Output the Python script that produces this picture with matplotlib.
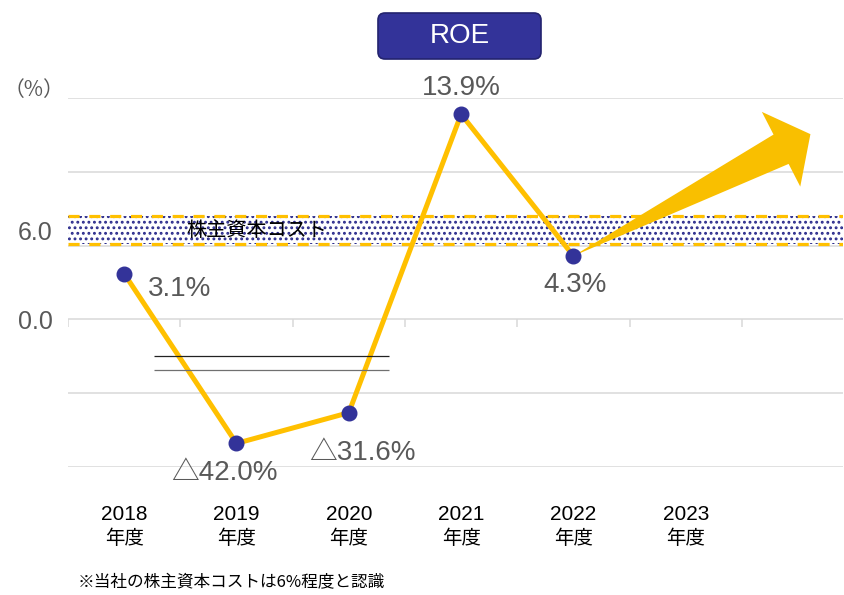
import matplotlib
matplotlib.use("Agg")
import matplotlib.pyplot as plt
import numpy as np
from matplotlib.patches import FancyBboxPatch, Polygon

plt.rcParams['font.family'] = ['Liberation Sans', 'Noto Sans CJK JP', 'DejaVu Sans']
plt.rcParams['lines.scale_dashes'] = False
plt.rcParams['hatch.linewidth'] = 1.3

# data
years = ['2018', '2019', '2020', '2021', '2022', '2023']
year_suffix = '年度'
roe = [3.1, -42.0, -31.6, 13.9, 4.3]
roe_labels = ['3.1%', '△42.0%', '△31.6%', '13.9%', '4.3%']
cost_band = (5.1, 7.0)
cost_label = '株主資本コスト'
ytick_vals = [0, 6]
ytick_labels = ['0.0', '6.0']
grid_vals = [-50, -25, 0, 5, 10, 15]
footnote = '※当社の株主資本コストは6%程度と認識'

NAVY = '#333399'
GOLD = '#FFC000'
GRAY = '#595959'

# broken axis: the negative part below the break is squeezed
V_KNOTS = [-100, -17, -2.5, 100]
D_KNOTS = [-4, -0.68, -0.5, 20]


def fwd(v):
    return np.interp(v, V_KNOTS, D_KNOTS)


def inv(d):
    return np.interp(d, D_KNOTS, V_KNOTS)


fig = plt.figure(figsize=(8.44, 5.95), dpi=100)
ax = fig.add_axes([68 / 844, (595 - 467) / 595, 775 / 844, 369 / 595])
ax.set_yscale('function', functions=(fwd, inv))
ax.set_xlim(-0.5, 6.4)
ax.set_ylim(-50, 15)
for s in ax.spines.values():
    s.set_visible(False)

# grid + ticks
ax.set_yticks(ytick_vals, ytick_labels)
ax.yaxis.set_minor_locator(matplotlib.ticker.NullLocator())
ax.tick_params(axis='y', which='both', length=0, pad=11, labelsize=18, labelcolor=GRAY)
ax.set_xticks([])
for g in grid_vals:
    ax.axhline(g, color='#D9D9D9', lw=1.1, zorder=0.5)
ax.vlines(np.arange(-0.5, 6, 1), -0.5, 0, color='#D9D9D9', lw=1.1, zorder=1)

# cost of equity band
ax.fill_between([-0.5, 6.4], cost_band[0], cost_band[1], facecolor='white',
                edgecolor='#2B2B8C', hatch='...', linewidth=0, zorder=1.5)
for yv in cost_band:
    ax.axhline(yv, color=GOLD, lw=2.3, dashes=(8, 7), zorder=1.6)
ax.text(0.55, np.mean(cost_band), cost_label, fontsize=14.5, color='black',
        va='center', ha='left', zorder=1.7)

# line + markers
x = np.arange(len(roe))
ax.plot(x, roe, color=GOLD, lw=3.6, solid_capstyle='round', zorder=3)
ax.plot(x, roe, 'o', color=NAVY, ms=10.5, zorder=6)

# break marks
ax.hlines(-2.5, 0.27, 2.36, color='#222222', lw=0.9, zorder=4)
ax.hlines(-17, 0.27, 2.36, color='#707070', lw=0.9, zorder=4)

# value labels
offsets = [(40, -11), (-9, -21), (10, -29), (0, 19), (1, -21)]
for xi, yi, lab, off in zip(x, roe, roe_labels, offsets):
    ax.annotate(lab, (xi, yi), xytext=off, textcoords='offset points',
                ha='center', va='center', fontsize=20, color=GRAY)

# big arrow from the 2022 point
px = fig.dpi / 100
p0 = ax.transData.transform((x[-1], roe[-1]))
p1 = ax.transData.transform((6.11, 12.55))
u = (p1 - p0) / np.hypot(*(p1 - p0))
n = np.array([-u[1], u[0]])
hb = p1 - u * 33 * px
pts = [p0, hb + n * 16.5 * px, hb + n * 42 * px, p1,
       hb - n * 42 * px, hb - n * 16.5 * px]
pts = ax.transData.inverted().transform(np.array(pts))
ax.add_patch(Polygon(pts, closed=True, facecolor='#F9BF00', edgecolor='none',
                     zorder=5, clip_on=False))

# category labels
xt = ax.get_xaxis_transform()
for xi, yr in enumerate(years):
    ax.text(xi, -0.130, yr, transform=xt, ha='center', va='center', fontsize=15,
            family=['Liberation Sans Narrow', 'Liberation Sans'], color='black')
    ax.text(xi, -0.194, year_suffix, transform=xt, ha='center', va='center',
            fontsize=14, family=['Noto Sans CJK JP'], color='black')

# title box
fig.patches.append(FancyBboxPatch((3.78, 5.36), 1.63, 0.46,
                                  boxstyle='round,pad=0,rounding_size=0.07',
                                  transform=fig.dpi_scale_trans, facecolor=NAVY,
                                  edgecolor='#23236E', lw=1.2))
fig.text(4.595 / 8.44, 5.59 / 5.95, 'ROE', color='white', fontsize=20,
         ha='center', va='center')

fig.text(34 / 844, (595 - 90) / 595, '（%）', color=GRAY, fontsize=15,
         ha='center', va='center', family=['Noto Sans CJK JP'])
fig.text(78 / 844, (595 - 583) / 595, footnote, fontsize=12, ha='left', va='center',
         family=['Noto Sans CJK JP'])

fig.savefig('out.png', dpi=100)
